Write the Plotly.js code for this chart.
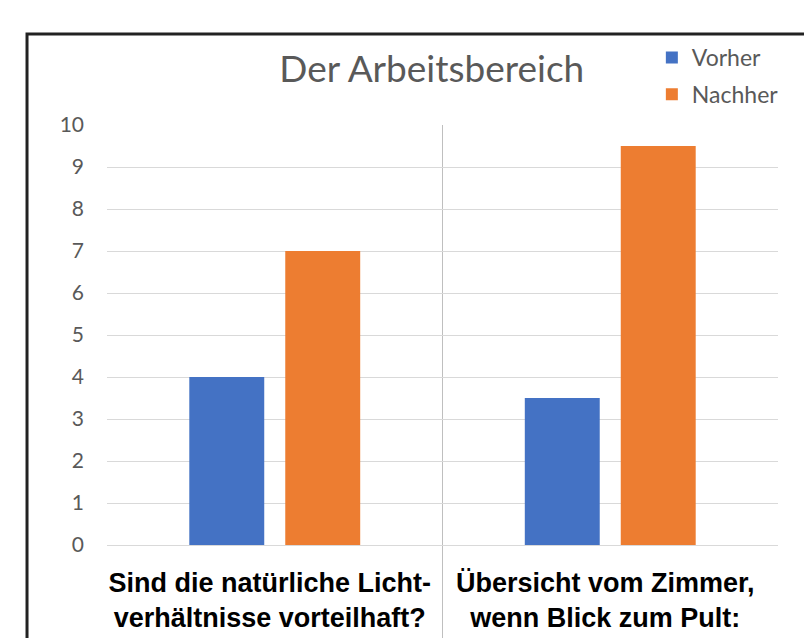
<!DOCTYPE html>
<html><head><meta charset="utf-8">
<script src="https://cdn.plot.ly/plotly-3.0.1.min.js"></script>
<style>html,body{margin:0;padding:0;background:#fff}#chart{width:804px;height:638px}</style>
</head><body><div id="chart"></div>
<script>
const categories = ["Sind die natürliche Licht-<br>verhältnisse vorteilhaft?", "Übersicht vom Zimmer,<br>wenn Blick zum Pult:"];
const vorher = [4, 3.5];
const nachher = [7, 9.5];
const yTicks = [0,1,2,3,4,5,6,7,8,9,10];

const traces = [
  {type:'bar', name:'Vorher', x:categories, y:vorher, marker:{color:'#4472C4'}, legendgroup:'a', hoverinfo:'none'},
  {type:'bar', name:'Nachher', x:categories, y:nachher, marker:{color:'#ED7D31'}, legendgroup:'b', hoverinfo:'none'}
];

const layout = {
  width:804, height:638,
  margin:{l:107, r:26, t:125, b:93},
  paper_bgcolor:'#fff', plot_bgcolor:'#fff',
  barmode:'group', bargap:0.428, bargroupgap:0.219,
  title:{text:'Der Arbeitsbereich', font:{family:'Lato, sans-serif', size:37, color:'#595959'},
         xref:'paper', x:0.484, xanchor:'center', yref:'container', y:0.891, yanchor:'middle'},
  showlegend:true,
  legend:{x:0.812, xanchor:'left', y:1.212, yanchor:'top', font:{family:'Lato, sans-serif', size:23, color:'#595959'},
          tracegroupgap:4, traceorder:'grouped', bgcolor:'rgba(0,0,0,0)'},
  xaxis:{type:'category', showgrid:false, zeroline:false, showline:false, ticks:'',
         tickfont:{family:'Liberation Sans, Arial, sans-serif', size:27, color:'#000', weight:'bold'},
         ticklabelstandoff:19, ticklabelshift:-5, fixedrange:true},
  yaxis:{range:[0,10], tickvals:yTicks, ticktext:yTicks.map(String), showgrid:true, gridcolor:'#d9d9d9', gridwidth:1,
         zeroline:true, zerolinecolor:'#d9d9d9', zerolinewidth:1, showline:false, ticks:'',
         tickfont:{family:'Lato, sans-serif', size:21, color:'#595959'}, ticklabelstandoff:22, fixedrange:true},
  shapes:[
    {type:'line', xref:'x', x0:0.5, x1:0.5, yref:'paper', y0:-0.4, y1:1, line:{color:'#bfbfbf', width:1}, layer:'below'},
    {type:'rect', xref:'paper', yref:'paper', x0:-0.1192, x1:1.2, y0:-0.5, y1:1.2167, line:{color:'#222', width:3}, fillcolor:'rgba(0,0,0,0)'}
  ]
};
Plotly.newPlot('chart', traces, layout, {displayModeBar:false, staticPlot:true});
</script></body></html>
